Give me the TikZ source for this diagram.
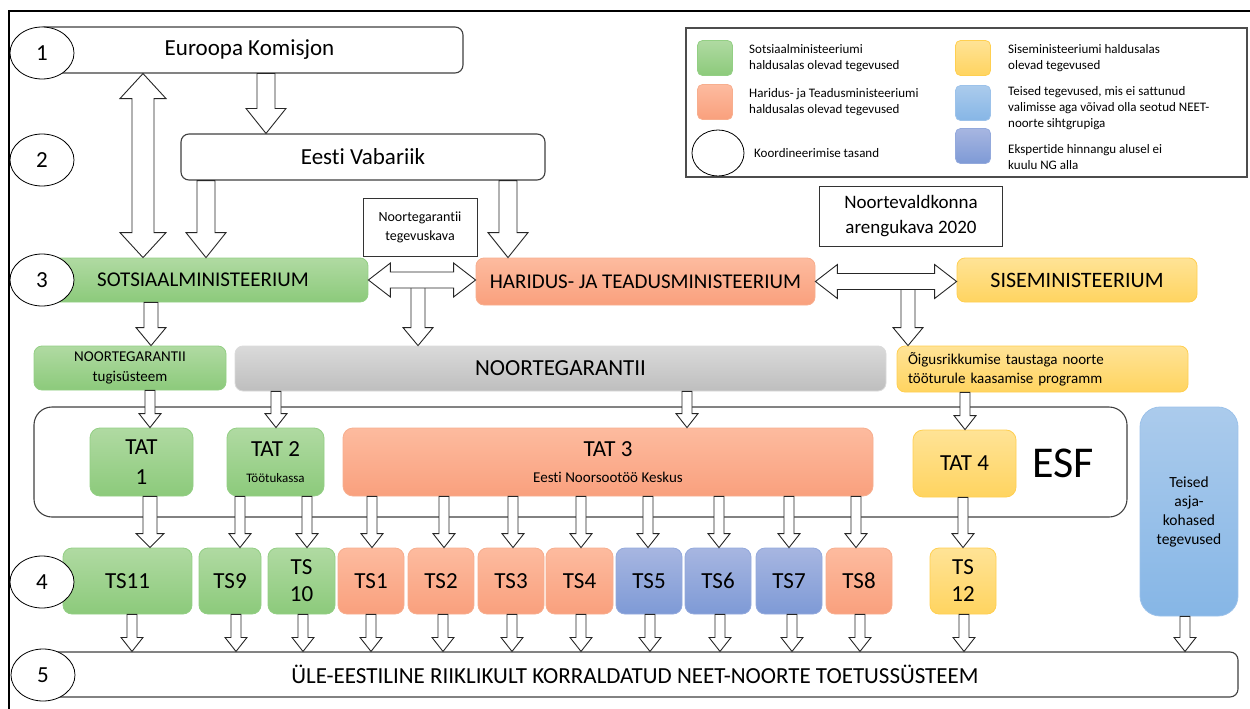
\documentclass[tikz,border=0pt]{standalone}
\usepackage{fontspec}
\setmainfont{Carlito}[Ligatures=CommonOff]
\usepackage{xcolor}
\usepackage{tikz}
\usetikzlibrary{calc}
\usetikzlibrary{shapes.geometric}
\definecolor{greentop}{HTML}{B0DAA2}
\definecolor{greenbot}{HTML}{8CCA7B}
\definecolor{greenline}{HTML}{93CF84}
\definecolor{redtop}{HTML}{FDBB9F}
\definecolor{redbot}{HTML}{F9A07D}
\definecolor{redline}{HTML}{F7AE8E}
\definecolor{yellowtop}{HTML}{FFE396}
\definecolor{yellowbot}{HTML}{FFD460}
\definecolor{yellowline}{HTML}{FFCF50}
\definecolor{bluetop}{HTML}{A7B6E1}
\definecolor{bluebot}{HTML}{7E9AD6}
\definecolor{blueline}{HTML}{93A9DC}
\definecolor{skytop}{HTML}{ABCBEC}
\definecolor{skybot}{HTML}{86B6E6}
\definecolor{skyline}{HTML}{9CC2EA}
\definecolor{graytop}{HTML}{DADADA}
\definecolor{graybot}{HTML}{BEBEBE}
\tikzset{
    fnt/.style 2 args = {font=\fontsize{#1}{#2}\selectfont},
    box/.style = {align=center, inner sep=2pt, rounded corners=8pt},
    white_box/.style = {box, draw=black!75, fill=white, line width=1.1pt},
    frame_box/.style = {align=center, draw=black!80, fill=white, line width=1pt},
    green_box/.style = {box, draw=greenline, top color=greentop, bottom color=greenbot, line width=0.8pt},
    red_box/.style = {box, draw=redline, top color=redtop, bottom color=redbot, line width=0.8pt},
    yellow_box/.style = {box, draw=yellowline, top color=yellowtop, bottom color=yellowbot, line width=0.8pt},
    blue_box/.style = {box, draw=blueline, top color=bluetop, bottom color=bluebot, line width=0.8pt},
    sky_box/.style = {box, draw=skyline, top color=skytop, bottom color=skybot, line width=0.8pt},
    gray_box/.style = {box, draw=graytop, top color=graytop, bottom color=graybot, line width=0.8pt},
    level_node/.style = {ellipse, draw=black, fill=white, line width=0.8pt, inner sep=0pt, minimum width=64pt, minimum height=52pt, fnt={23}{28}},
    ts_node/.style = {minimum width=66pt, minimum height=66pt, rounded corners=9pt, fnt={23}{27}},
    tat_node/.style = {minimum height=68pt, rounded corners=10pt, fnt={23}{30}},
    legend_text/.style = {anchor=west, align=left, inner sep=0pt, fnt={13}{16}},
    legend_key/.style = {minimum width=35pt, minimum height=35pt, rounded corners=5pt}
}
\tikzset{
    arrow_size/.code n args = {3}{\def\aw{#1}\def\ah{#2}\def\al{#3}},
    block_arrow/.style = {draw=black!85, fill=white, line width=0.9pt, line join=miter},
    down_arrow/.style = {block_arrow, to path={let \p1=(\tikztostart), \p2=(\tikztotarget) in
        (\x1-\aw,\y1) -- (\x1-\aw,\y2+\al) -- (\x1-\ah,\y2+\al) -- (\x1,\y2)
        -- (\x1+\ah,\y2+\al) -- (\x1+\aw,\y2+\al) -- (\x1+\aw,\y1) -- cycle}},
    updown_arrow/.style = {block_arrow, to path={let \p1=(\tikztostart), \p2=(\tikztotarget) in
        (\x1,\y1) -- (\x1+\ah,\y1-\al) -- (\x1+\aw,\y1-\al) -- (\x1+\aw,\y2+\al) -- (\x1+\ah,\y2+\al)
        -- (\x1,\y2) -- (\x1-\ah,\y2+\al) -- (\x1-\aw,\y2+\al) -- (\x1-\aw,\y1-\al) -- (\x1-\ah,\y1-\al) -- cycle}},
    leftright_arrow/.style = {block_arrow, to path={let \p1=(\tikztostart), \p2=(\tikztotarget) in
        (\x1,\y1) -- (\x1+\al,\y1+\ah) -- (\x1+\al,\y1+\aw) -- (\x2-\al,\y1+\aw) -- (\x2-\al,\y1+\ah)
        -- (\x2,\y1) -- (\x2-\al,\y1-\ah) -- (\x2-\al,\y1-\aw) -- (\x1+\al,\y1-\aw) -- (\x1+\al,\y1-\ah) -- cycle}}
}
\begin{document}
\begin{tikzpicture}
    [x=1pt, y=-1pt,
    big_arrow/.style = {down_arrow, arrow_size={9pt}{20pt}{25pt}},
    mid_arrow/.style = {down_arrow, arrow_size={7pt}{15pt}{18pt}},
    small_arrow/.style = {down_arrow, arrow_size={5pt}{11pt}{14pt}},
    side_arrow/.style = {leftright_arrow, arrow_size={8pt}{17pt}{22pt}}]

    \useasboundingbox (0,0) rectangle (1250,709);
    \draw[line width=1.5pt] (9,709) -- (9,11) -- (1250,11);

    \node[draw=black!70, line width=1.2pt, minimum width=561pt, minimum height=149pt] (legend) at (966.5,102.5) {};
    \node[green_box, legend_key] (key_sm) at (715,58) {};
    \node[legend_text] (txt_sm) at (749,58) {Sotsiaalministeeriumi\\haldusalas olevad tegevused};
    \node[red_box, legend_key] (key_htm) at (715,102) {};
    \node[legend_text] (txt_htm) at (749,102) {Haridus- ja Teadusministeeriumi\\haldusalas olevad tegevused};
    \node[level_node, minimum width=52pt, minimum height=46pt] (key_level) at (718,153) {};
    \node[legend_text] (txt_level) at (754,153) {Koordineerimise tasand};
    \node[yellow_box, legend_key] (key_sim) at (973,58) {};
    \node[legend_text] (txt_sim) at (1008,58) {Siseministeeriumi haldusalas\\olevad tegevused};
    \node[sky_box, legend_key] (key_other) at (973,103) {};
    \node[legend_text] (txt_other) at (1008,108) {Teised tegevused, mis ei sattunud\\valimisse aga võivad olla seotud NEET-\\noorte sihtgrupiga};
    \node[blue_box, legend_key] (key_exp) at (973,146) {};
    \node[legend_text] (txt_exp) at (1008,157) {Ekspertide hinnangu alusel ei\\kuulu NG alla};

    \node[white_box, minimum width=427pt, minimum height=46pt, fnt={23}{28}] (ek) at (249.5,50) {Euroopa Komisjon};
    \node[white_box, minimum width=364pt, minimum height=46pt, fnt={23}{28}] (ev) at (363,157) {Eesti Vabariik};
    \node[frame_box, minimum width=114pt, minimum height=58pt, fnt={14}{19}] (ngtk) at (420,227) {Noortegarantii\\tegevuskava};
    \node[frame_box, minimum width=183pt, minimum height=60pt, fnt={19}{25}] (nva) at (911,216) {Noortevaldkonna\\arengukava 2020};

    \node[green_box, minimum width=330pt, minimum height=44pt, fnt={21}{26}] (sm) at (203,280) {SOTSIAALMINISTEERIUM};
    \node[red_box, minimum width=339pt, minimum height=47pt, fnt={21}{26}] (htm) at (645.5,281.5) {HARIDUS- JA TEADUSMINISTEERIUM};
    \node[yellow_box, minimum width=240pt, minimum height=44pt, fnt={22}{27}] (sim) at (1077,280) {SISEMINISTEERIUM};

    \node[green_box, minimum width=192pt, minimum height=44pt, fnt={15}{20}] (ngt) at (130,368) {NOORTEGARANTII\\tugisüsteem};
    \node[gray_box, minimum width=651pt, minimum height=45pt, fnt={23}{28}] (ng) at (560.5,368.5) {NOORTEGARANTII};
    \node[yellow_box, minimum width=291pt, minimum height=46pt, text width=269pt, align=left, fnt={15}{19}] (oig) at (1042.5,369) {Õigusrikkumise taustaga noorte\\tööturule kaasamise programm};

    \node[white_box, rounded corners=18pt, minimum width=1093pt, minimum height=110pt] (esf) at (580.5,462) {};
    \node[fnt={44}{50}] (esf_label) at (1063,463) {ESF};
    \node[green_box, tat_node, minimum width=103pt] (tat1) at (141.5,462) {TAT\\1};
    \node[green_box, tat_node, minimum width=97pt] (tat2) at (275.5,462) {TAT 2\\[-4pt]{\fontsize{13}{15}\selectfont Töötukassa}};
    \node[red_box, tat_node, minimum width=530pt] (tat3) at (608,462) {TAT 3\\[-4pt]{\fontsize{15}{17}\selectfont Eesti Noorsootöö Keskus}};
    \node[yellow_box, tat_node, minimum width=103pt, minimum height=67pt] (tat4) at (964.5,463.5) {TAT 4};
    \node[sky_box, rounded corners=20pt, minimum width=98pt, minimum height=209pt, fnt={15.5}{19}] (other) at (1189,511.5) {Teised\\asja-\\kohased\\tegevused};

    \node[green_box, ts_node, minimum width=129pt] (ts11) at (127.5,581) {TS11};
    \node[green_box, ts_node, minimum width=62pt] (ts9) at (230,581) {TS9};
    \node[green_box, ts_node, minimum width=67pt] (ts10) at (301.5,581) {TS\\10};
    \node[red_box, ts_node] (ts1) at (371,581) {TS1};
    \node[red_box, ts_node] (ts2) at (441,581) {TS2};
    \node[red_box, ts_node] (ts3) at (511,581) {TS3};
    \node[red_box, ts_node, minimum width=67pt] (ts4) at (579.5,581) {TS4};
    \node[blue_box, ts_node] (ts5) at (649,581) {TS5};
    \node[blue_box, ts_node] (ts6) at (718,581) {TS6};
    \node[blue_box, ts_node] (ts7) at (789,581) {TS7};
    \node[red_box, ts_node] (ts8) at (859,581) {TS8};
    \node[yellow_box, ts_node] (ts12) at (963,581) {TS\\12};

    \node[white_box, minimum width=1206pt, minimum height=45pt, fnt={23}{28}] (system) at (635,674.5) {ÜLE-EESTILINE RIIKLIKULT KORRALDATUD NEET-NOORTE TOETUSSÜSTEEM};

    \draw[updown_arrow, arrow_size={11pt}{23pt}{25pt}] (143,0 |- ek.south) to (143,0 |- sm.north);
    \draw[big_arrow] (266,0 |- ek.south) to (266,0 |- ev.north);
    \draw[big_arrow] (206,0 |- ev.south) to (206,0 |- sm.north);
    \draw[big_arrow] (508,0 |- ev.south) to (508,0 |- htm.north);
    \draw[mid_arrow] (151,0 |- sm.south) to (151,0 |- ngt.north);
    \draw[mid_arrow] (418,0 |- sm.east) to (418,0 |- ng.north);
    \draw[mid_arrow] (908,0 |- sim.west) to (908,0 |- oig.north);
    \draw[side_arrow] (sm.east) to (htm.west);
    \draw[side_arrow] (htm.east) to (sim.west);

    \draw[small_arrow] (150,0 |- ngt.south) to (150,0 |- tat1.north);
    \draw[small_arrow] (276,0 |- ng.south) to (276,0 |- tat2.north);
    \draw[small_arrow] (687,0 |- ng.south) to (687,0 |- tat3.north);
    \draw[small_arrow] (965,0 |- oig.south) to (965,0 |- tat4.north);

    \draw[down_arrow, arrow_size={7pt}{14pt}{14pt}] (150,0 |- tat1.south) to (150,0 |- ts11.north);
    \draw[small_arrow] (240,0 |- tat2.south) to (240,0 |- ts9.north);
    \draw[small_arrow] (307,0 |- tat2.south) to (307,0 |- ts10.north);
    \draw[small_arrow] (372,0 |- tat3.south) to (372,0 |- ts1.north);
    \draw[small_arrow] (444,0 |- tat3.south) to (444,0 |- ts2.north);
    \draw[small_arrow] (513,0 |- tat3.south) to (513,0 |- ts3.north);
    \draw[small_arrow] (581,0 |- tat3.south) to (581,0 |- ts4.north);
    \draw[small_arrow] (648,0 |- tat3.south) to (648,0 |- ts5.north);
    \draw[small_arrow] (719,0 |- tat3.south) to (719,0 |- ts6.north);
    \draw[small_arrow] (789,0 |- tat3.south) to (789,0 |- ts7.north);
    \draw[small_arrow] (856,0 |- tat3.south) to (856,0 |- ts8.north);
    \draw[small_arrow] (963,0 |- tat4.south) to (963,0 |- ts12.north);

    \draw[small_arrow] (132,0 |- ts11.south) to (132,0 |- system.north);
    \draw[small_arrow] (236,0 |- ts9.south) to (236,0 |- system.north);
    \draw[small_arrow] (303,0 |- ts10.south) to (303,0 |- system.north);
    \draw[small_arrow] (371,0 |- ts1.south) to (371,0 |- system.north);
    \draw[small_arrow] (443,0 |- ts2.south) to (443,0 |- system.north);
    \draw[small_arrow] (512,0 |- ts3.south) to (512,0 |- system.north);
    \draw[small_arrow] (581,0 |- ts4.south) to (581,0 |- system.north);
    \draw[small_arrow] (650,0 |- ts5.south) to (650,0 |- system.north);
    \draw[small_arrow] (720,0 |- ts6.south) to (720,0 |- system.north);
    \draw[small_arrow] (792,0 |- ts7.south) to (792,0 |- system.north);
    \draw[small_arrow] (860,0 |- ts8.south) to (860,0 |- system.north);
    \draw[small_arrow] (964,0 |- ts12.south) to (964,0 |- system.north);
    \draw[small_arrow] (1185,0 |- other.south) to (1185,0 |- system.north);

    \node[level_node] (lvl1) at (42,53) {1};
    \node[level_node] (lvl2) at (42,160) {2};
    \node[level_node] (lvl3) at (42,280) {3};
    \node[level_node] (lvl4) at (42,582) {4};
    \node[level_node] (lvl5) at (43,675) {5};
\end{tikzpicture}
\end{document}
